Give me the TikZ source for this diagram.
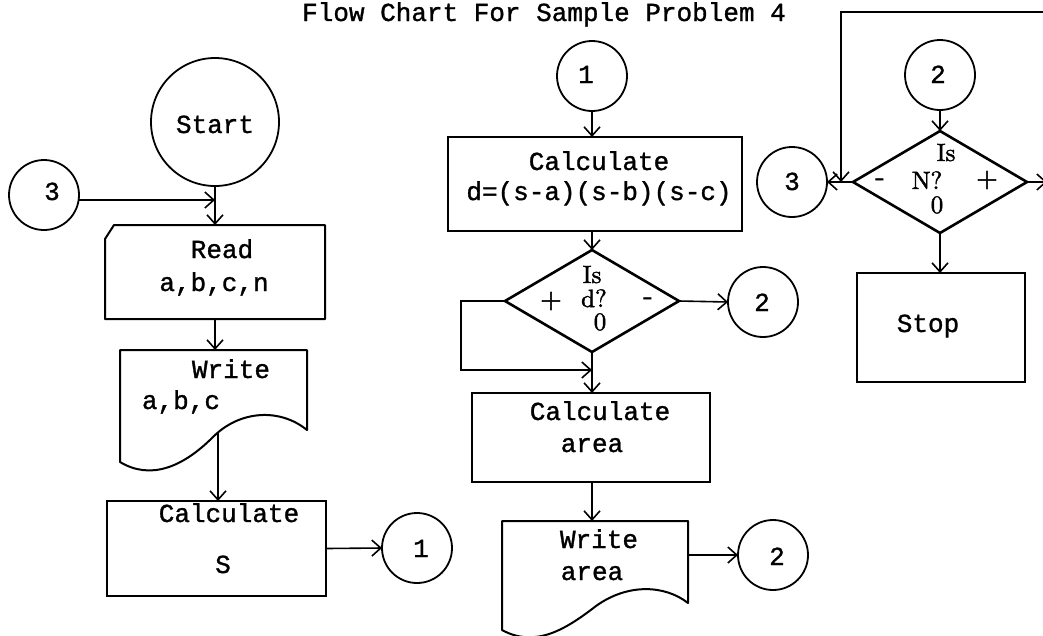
\documentclass[tikz,border=0pt]{standalone}
\usepackage{fontspec}
\newfontfamily\tw[FakeBold=1.2]{Liberation Mono}
\newfontfamily\dfont[FakeBold=1.6]{lmroman10-regular.otf}
\usetikzlibrary{arrows.meta,shapes.geometric,calc}

\begin{document}
\begin{tikzpicture}[x=1pt,y=-1pt,
  every node/.style={inner sep=0pt, outer sep=0pt},
  conn/.style={circle, draw, line width=1.8pt, minimum size=70pt},
  box/.style={draw, line width=2pt},
  frame/.style={line width=2pt, line join=round},
  txt/.style={font=\tw\fontsize{26}{30}\selectfont, anchor=base},
  dtxt/.style={font=\dfont\fontsize{25}{28}\selectfont, anchor=base},
  dsign/.style={font=\dfont\fontsize{28}{30}\selectfont},
  decide/.style={diamond, draw, line width=2.6pt, minimum width=174pt, minimum height=102pt},
  arr/.style={line width=1.6pt, -{Straight Barb[length=9pt,width=16pt,line width=1.6pt]}},
]
\useasboundingbox[fill=white] (0,0) rectangle (1043,635);

% title
\node[txt] (title) at (544,21) {Flow Chart For Sample Problem 4};

% ---------- left column ----------
\node[conn, minimum size=128pt] (start) at (215,122) {};
\node[txt] (tstart) at (215,133) {Start};
\node[conn] (c3a) at (44,195) {};
\node[txt] (tc3a) at (52,200) {3};

% read card (cut corner)
\node[minimum width=220pt, minimum height=94pt] (read) at (215,272) {};
\draw[frame] ($(read.north west)+(0,14)$) -- ($(read.north west)+(9,0)$)
  -- (read.north east) -- (read.south east) -- (read.south west) -- cycle;
\node[txt] (tread1) at (222,258) {Read};
\node[txt] (tread2) at (214,291) {a,b,c,n};

% write document
\node[minimum width=187pt, minimum height=112pt] (wr1) at (213.5,406) {};
\draw[frame] (wr1.north west) -- (wr1.north east) -- (307,430)
  .. controls (280,408) and (240,410) .. (213,437)
  .. controls (182,468) and (150,480) .. (120,462) -- cycle;
\coordinate (wr1out) at (218,433);
\node[txt] (twr1a) at (231,378) {Write};
\node[txt] (twr1b) at (181,409) {a,b,c};

% calculate s
\node[box, minimum width=219pt, minimum height=95pt] (calcs) at (216.5,548.5) {};
\node[txt] (tcs1) at (229,522) {Calculate};
\node[txt] (tcs2) at (223,573) {S};
\node[conn] (c1a) at (417,548) {};
\node[txt] (tc1a) at (421,557) {1};

\draw[arr] (start.south) -- (start.south |- read.north);
\draw[arr] (c3a.east |- 0,200) -- (start.south |- 0,200);
\draw[arr] (read.south) -- (read.south |- wr1.north);
\draw[arr] (wr1out) -- (wr1out |- calcs.north);
\draw[arr] (calcs.east) -- (c1a.west);

% ---------- middle column ----------
\node[conn] (c1b) at (592,76) {};
\node[txt] (tc1b) at (586,83) {1};
\node[box, minimum width=294pt, minimum height=94pt] (calcd) at (595,184) {};
\node[txt] (tcd1) at (599,170) {Calculate};
\node[txt] (tcd2) at (599,200) {d=(s-a)(s-b)(s-c)};

\node[decide] (dd) at (592,301) {};
\node[dtxt] (tdd1) at (592,283) {Is};
\node[dtxt] (tdd2) at (594,307) {d?};
\node[dsign] (tdd3) at (551,301) {+};
\node[dsign] (tdd4) at (648,301) {-};
\node[dtxt] (tdd5) at (600,330) {0};
\node[conn] (c2a) at (763,302) {};
\node[txt] (tc2a) at (762,311) {2};

\node[box, minimum width=238pt, minimum height=89pt] (carea) at (591,437.5) {};
\node[txt] (tca1) at (600,420) {Calculate};
\node[txt] (tca2) at (592,452) {area};

% write area document
\node[minimum width=186pt, minimum height=110pt] (wa) at (595,576) {};
\draw[frame] (wa.north west) -- (wa.north east) -- (688,603)
  .. controls (665,585) and (628,583) .. (596,606)
  .. controls (565,630) and (535,648) .. (502,630) -- cycle;
\node[txt] (twa1) at (599,548) {Write};
\node[txt] (twa2) at (592,580) {area};
\node[conn] (c2b) at (773,555) {};
\node[txt] (tc2b) at (777,565) {2};

\draw[arr] (c1b.south) -- (c1b.south |- calcd.north);
\draw[arr] (calcd.south -| dd.north) -- (dd.north);
\draw[arr] (dd.east) -- (c2a.west);
\draw[arr] (dd.west) -- ++(-44,0) |- ($(dd.south)+(0,18)$);
\draw[arr] (dd.south) -- (dd.south |- carea.north);
\draw[arr] (carea.south -| dd.south) -- (dd.south |- wa.north);
\draw[arr] (wa.east |- c2b.west) -- (c2b.west);

% ---------- right column ----------
\node[conn] (c2c) at (940,75) {};
\node[txt] (tc2c) at (938,83) {2};
\node[decide] (dn) at (940,182) {};
\node[dtxt] (tdn1) at (946,161) {Is};
\node[dtxt] (tdn2) at (927,189) {N?};
\node[dsign] (tdn3) at (987,180) {+};
\node[dsign] (tdn4) at (880,182) {-};
\node[dtxt] (tdn5) at (937,213) {0};
\node[conn] (c3b) at (792,182) {};
\node[txt] (tc3b) at (792,190) {3};
\node[box, minimum width=168pt, minimum height=109pt] (stop) at (941,327.5) {};
\node[txt] (tstop) at (928,332) {Stop};

\coordinate (outR) at (1047,182);
\coordinate (topR) at (1060,12);
\coordinate (loopC) at (841,12);

\draw[arr] (c2c.south) -- (c2c.south |- dn.north);
\draw[arr] (dn.west) -- (c3b.east);
\draw[arr] (dn.east) -- (outR);
\draw[arr] (topR) -- (loopC) -- (loopC |- dn.west);
\draw[arr] (dn.south) -- (dn.south |- stop.north);
\end{tikzpicture}
\end{document}
